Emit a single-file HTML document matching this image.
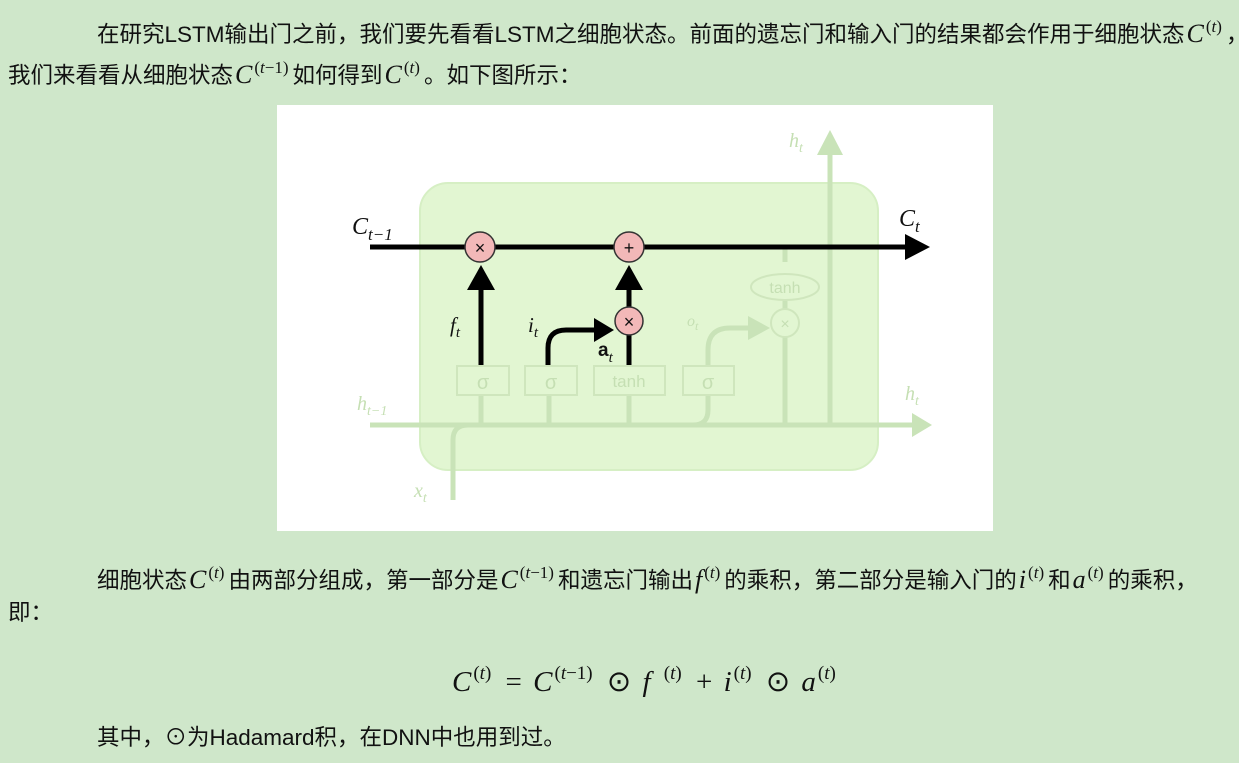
<!DOCTYPE html>
<html><head><meta charset="utf-8"><style>
body{margin:0;width:1239px;height:763px;background:#cfe7ca;font-family:"Liberation Sans","Noto Sans CJK SC",sans-serif;font-size:22.5px;color:#111;position:relative;overflow:hidden}
.t{position:absolute;white-space:nowrap;line-height:26px}
.m{font-family:"Liberation Serif",serif;font-style:italic;font-size:26px;padding-left:2px}
sup{font-family:"Liberation Serif",serif;font-size:17px;font-style:normal;vertical-align:10px;padding:0 4px 0 2px}
sup i{font-style:italic}
.f sup{font-size:19px;vertical-align:12px;padding:0 3px 0 2px}
</style></head><body>
<div class="t" style="left:97px;top:14px">在研究LSTM输出门之前，我们要先看看LSTM之细胞状态。前面的遗忘门和输入门的结果都会作用于细胞状态<span class="m">C</span><sup>(<i>t</i>)</sup>，</div>
<div class="t" style="left:8px;top:55px">我们来看看从细胞状态<span class="m">C</span><sup>(<i>t</i>−1)</sup>如何得到<span class="m">C</span><sup>(<i>t</i>)</sup>。如下图所示：</div>
<svg style="position:absolute;left:277px;top:105px" width="716" height="426" viewBox="277 105 716 426">
<rect x="277" y="105" width="716" height="426" fill="#fff"/>
<g stroke="#c9e3b8" fill="none" stroke-width="5">
<rect x="420" y="183" width="458" height="287" rx="28" fill="#e2f6d2" stroke="#d6efc4" stroke-width="2"/>
<path d="M370 425H912"/><path d="M453 500V440q0-15 15-15"/>
<path d="M481 395V425M549 395V425M629 395V425"/>
<path d="M708 395V410q0 15-15 15"/>
<path d="M708 366V350q0-22 22-22H765"/>
<path d="M785 300V425q0 0 15 0H830"/>
<path d="M785 262V247"/>
<path d="M830 425V150"/>
</g>
<g fill="#c9e3b8"><polygon points="912,413 932,425 912,437"/><polygon points="817,155 830,130 843,155"/><polygon points="748,316 770,328 748,340"/></g>
<g fill="#e2f6d2" stroke="#cfe6bd" stroke-width="2">
<rect x="457" y="366" width="52" height="29"/><rect x="525" y="366" width="52" height="29"/><rect x="594" y="366" width="71" height="29"/><rect x="683" y="366" width="51" height="29"/>
<ellipse cx="785" cy="287" rx="34" ry="13"/><circle cx="785" cy="323" r="14"/>
</g>
<g font-family="Liberation Sans" fill="#c5dfb3" font-size="20" text-anchor="middle"><text x="483" y="389">σ</text><text x="551" y="389">σ</text><text x="629" y="387" font-size="17">tanh</text><text x="708" y="389">σ</text><text x="785" y="293" font-size="16">tanh</text><text x="785" y="329" font-size="16">×</text></g>
<g font-family="Liberation Serif" font-style="italic" fill="#c5dfb3" font-size="20"><text x="357" y="410">h<tspan font-size="14" dy="5">t−1</tspan></text><text x="905" y="400">h<tspan font-size="14" dy="5">t</tspan></text><text x="789" y="147">h<tspan font-size="14" dy="5">t</tspan></text><text x="414" y="497">x<tspan font-size="14" dy="5">t</tspan></text><text x="687" y="326" font-size="16">o<tspan font-size="12" dy="4">t</tspan></text></g>
<g stroke="#000" stroke-width="5" fill="none">
<path d="M370 247H905"/><path d="M481 365V290"/><path d="M629 365V290"/><path d="M548 365V348q0-18 18-18H596"/>
</g>
<g fill="#000"><polygon points="905,234 930,247 905,260"/><polygon points="467,290 481,265 495,290"/><polygon points="615,290 629,265 643,290"/><polygon points="594,318 614,330 594,342"/></g>
<g fill="#f2b8b8" stroke="#333" stroke-width="1.5"><circle cx="480" cy="247" r="15"/><circle cx="629" cy="247" r="15"/><circle cx="629" cy="321" r="14"/></g>
<g font-family="Liberation Sans" font-size="18" text-anchor="middle" fill="#111"><text x="480" y="254">×</text><text x="629" y="254">+</text><text x="629" y="328">×</text></g>
<g font-family="Liberation Serif" font-style="italic" font-size="24" fill="#111"><text x="352" y="234">C<tspan font-size="17" dy="6">t−1</tspan></text><text x="899" y="226">C<tspan font-size="17" dy="6">t</tspan></text><text x="450" y="332" font-size="21">f<tspan font-size="15" dy="5">t</tspan></text><text x="528" y="332" font-size="21">i<tspan font-size="15" dy="5">t</tspan></text><text x="598" y="356" font-size="19" font-style="normal" font-weight="bold" font-family="Liberation Sans">a<tspan font-size="15" dy="6" font-style="italic" font-family="Liberation Serif" font-weight="normal">t</tspan></text></g>
</svg>
<div class="t" style="left:97px;top:560px">细胞状态<span class="m">C</span><sup>(<i>t</i>)</sup>由两部分组成，第一部分是<span class="m">C</span><sup>(<i>t</i>−1)</sup>和遗忘门输出<span class="m">f</span><sup>(<i>t</i>)</sup>的乘积，第二部分是输入门的<span class="m">i</span><sup>(<i>t</i>)</sup>和<span class="m">a</span><sup>(<i>t</i>)</sup>的乘积，</div>
<div class="t" style="left:8px;top:600px">即：</div>
<div class="t f" style="left:452px;top:658px;font-family:'Liberation Serif',serif;font-size:29px;line-height:32px;word-spacing:4px"><i>C</i><sup>(<i>t</i>)</sup> = <i>C</i><sup>(<i>t</i>−1)</sup> ⊙ <i>f</i> <sup>(<i>t</i>)</sup> + <i>i</i><sup>(<i>t</i>)</sup> ⊙ <i>a</i><sup>(<i>t</i>)</sup></div>
<div class="t" style="left:97px;top:725px">其中，⊙为Hadamard积，在DNN中也用到过。</div>
</body></html>
